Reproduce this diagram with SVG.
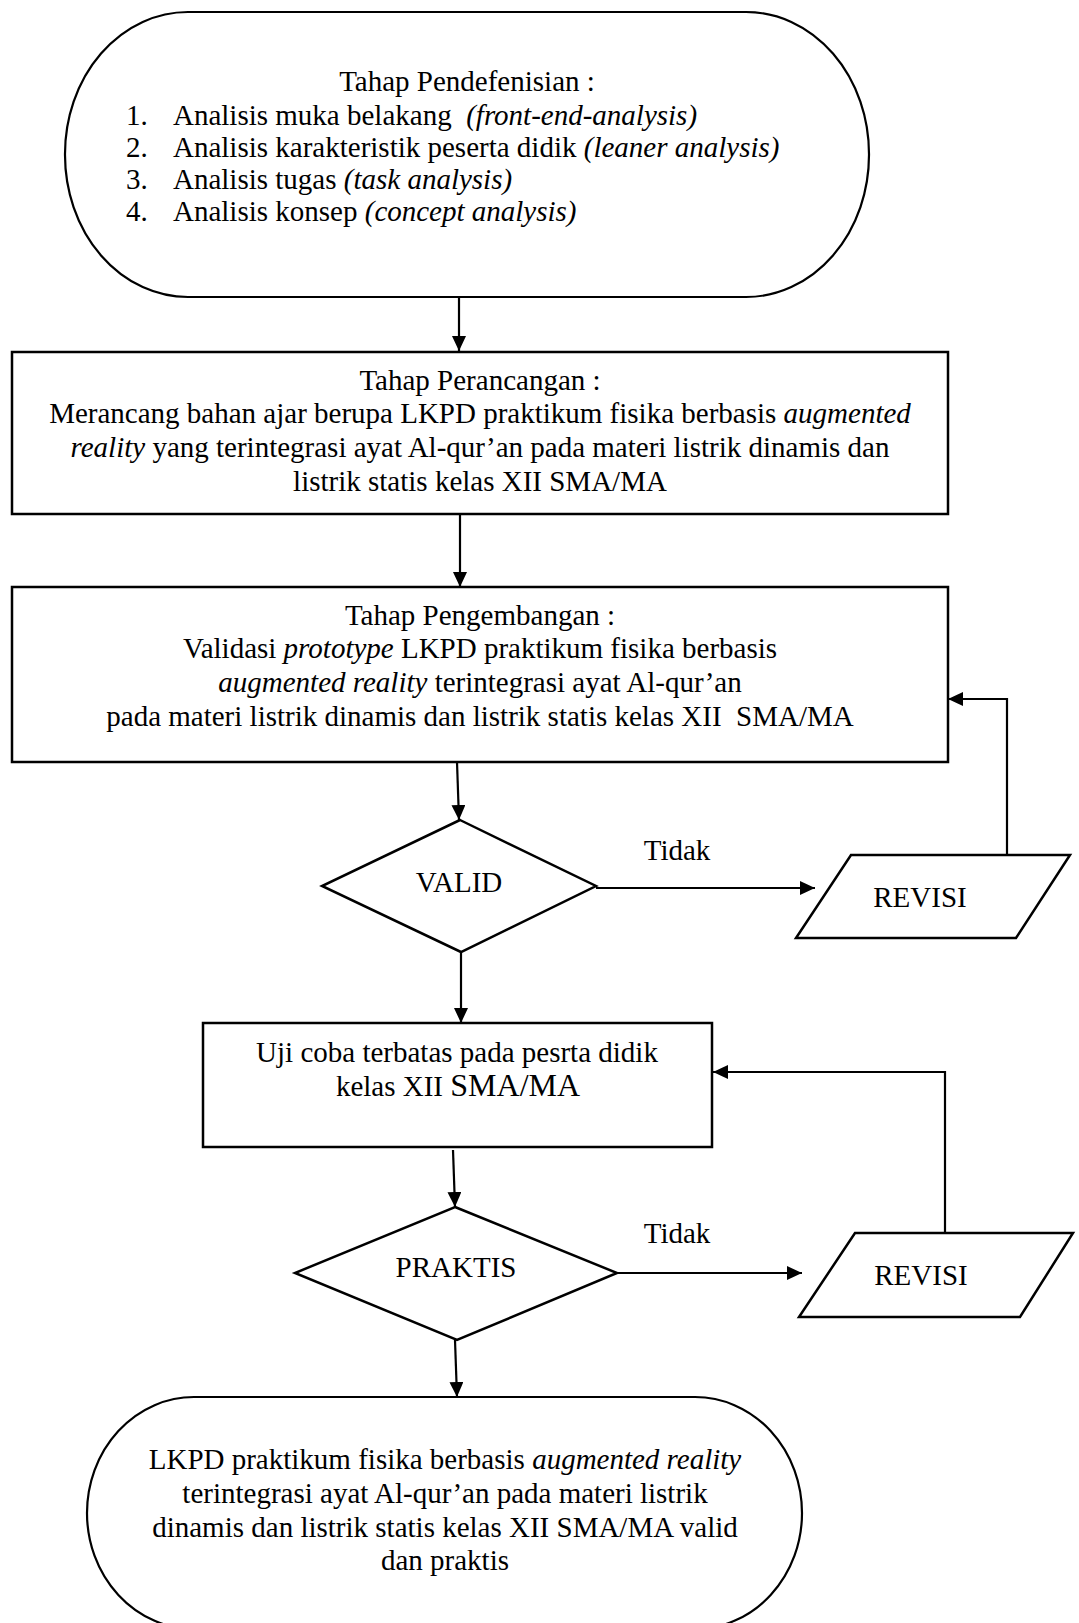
<svg xmlns="http://www.w3.org/2000/svg" width="1079" height="1623" viewBox="0 0 1079 1623">
<style>
text{font-family:"Liberation Serif","Times New Roman",serif;font-size:29px;fill:#000}
.c{text-anchor:middle}
.i{font-style:italic}
.shape{fill:#fff;stroke:#000;stroke-width:2.5}
.term{fill:#fff;stroke:#000;stroke-width:2.2}
.ln{fill:none;stroke:#000;stroke-width:2.2}
</style>
<defs>
<marker id="ah" markerUnits="userSpaceOnUse" markerWidth="16" markerHeight="14" refX="15" refY="7" orient="auto">
<path d="M0,0 L15,7 L0,14 z" fill="#000"/>
</marker>
</defs>
<rect width="1079" height="1623" fill="#fff"/>

<g id="connectors">
<line class="ln" x1="459" y1="297" x2="459" y2="351" marker-end="url(#ah)"/>
<line class="ln" x1="460" y1="515" x2="460" y2="587" marker-end="url(#ah)"/>
<line class="ln" x1="457" y1="762" x2="459" y2="820" marker-end="url(#ah)"/>
<line class="ln" x1="596" y1="888" x2="815" y2="888" marker-end="url(#ah)"/>
<polyline class="ln" points="1007,855 1007,699 948,699" marker-end="url(#ah)"/>
<line class="ln" x1="461" y1="952" x2="461" y2="1023" marker-end="url(#ah)"/>
<line class="ln" x1="453" y1="1150" x2="455" y2="1207" marker-end="url(#ah)"/>
<line class="ln" x1="617" y1="1273" x2="802" y2="1273" marker-end="url(#ah)"/>
<polyline class="ln" points="945,1233 945,1072 713,1072" marker-end="url(#ah)"/>
<line class="ln" x1="455" y1="1340" x2="457" y2="1397" marker-end="url(#ah)"/>
<text class="c" x="677" y="860">Tidak</text>
<text class="c" x="677" y="1243">Tidak</text>
</g>

<g id="start">
<rect class="term" x="65" y="12" width="804" height="285" rx="123" ry="142"/>
<text class="c" x="467" y="91">Tahap Pendefenisian :</text>
<text x="126" y="125">1.</text>
<text x="173" y="125" xml:space="preserve">Analisis muka belakang  <tspan class="i">(front-end-analysis)</tspan></text>
<text x="126" y="157">2.</text>
<text x="173" y="157">Analisis karakteristik peserta didik <tspan class="i">(leaner analysis)</tspan></text>
<text x="126" y="189">3.</text>
<text x="173" y="189">Analisis tugas <tspan class="i">(task analysis)</tspan></text>
<text x="126" y="221">4.</text>
<text x="173" y="221">Analisis konsep <tspan class="i">(concept analysis)</tspan></text>
</g>

<g id="perancangan">
<rect class="shape" x="12" y="352" width="936" height="162"/>
<text class="c" x="480" y="390">Tahap Perancangan :</text>
<text class="c" x="480" y="423">Merancang bahan ajar berupa LKPD praktikum fisika berbasis <tspan class="i">augmented</tspan></text>
<text class="c" x="480" y="457"><tspan class="i">reality</tspan> yang terintegrasi ayat Al-qur’an pada materi listrik dinamis dan</text>
<text class="c" x="480" y="491">listrik statis kelas XII SMA/MA</text>
</g>

<g id="pengembangan">
<rect class="shape" x="12" y="587" width="936" height="175"/>
<text class="c" x="480" y="625">Tahap Pengembangan :</text>
<text class="c" x="480" y="658">Validasi <tspan class="i">prototype</tspan> LKPD praktikum fisika berbasis</text>
<text class="c" x="480" y="692"><tspan class="i">augmented reality</tspan> terintegrasi ayat Al-qur’an</text>
<text class="c" x="480" y="726" xml:space="preserve">pada materi listrik dinamis dan listrik statis kelas XII  SMA/MA</text>
</g>

<g id="valid">
<polygon class="shape" points="460,820 596,886 461,952 322,886" stroke-width="2"/>
<text class="c" x="459" y="892">VALID</text>
</g>

<g id="revisi1">
<polygon class="shape" points="851,855 1070,855 1016,938 796,938"/>
<text class="c" x="920" y="907">REVISI</text>
</g>

<g id="ujicoba">
<rect class="shape" x="203" y="1023" width="509" height="124"/>
<text class="c" x="457" y="1062">Uji coba terbatas pada pesrta didik</text>
<text class="c" x="458" y="1096">kelas XII <tspan font-size="32">SMA/MA</tspan></text>
</g>

<g id="praktis">
<polygon class="shape" points="455,1207 617,1273 457,1340 295,1273" stroke-width="2"/>
<text class="c" x="456" y="1277" font-size="26.5">PRAKTIS</text>
</g>

<g id="revisi2">
<polygon class="shape" points="855,1233 1073,1233 1020,1317 799,1317"/>
<text class="c" x="921" y="1285">REVISI</text>
</g>

<g id="end">
<rect class="term" x="87" y="1397" width="715" height="232" rx="107" ry="116"/>
<text class="c" x="445" y="1469">LKPD praktikum fisika berbasis <tspan class="i">augmented reality</tspan></text>
<text class="c" x="445" y="1503">terintegrasi ayat Al-qur’an pada materi listrik</text>
<text class="c" x="445" y="1537">dinamis dan listrik statis kelas XII SMA/MA valid</text>
<text class="c" x="445" y="1570">dan praktis</text>
</g>
</svg>
